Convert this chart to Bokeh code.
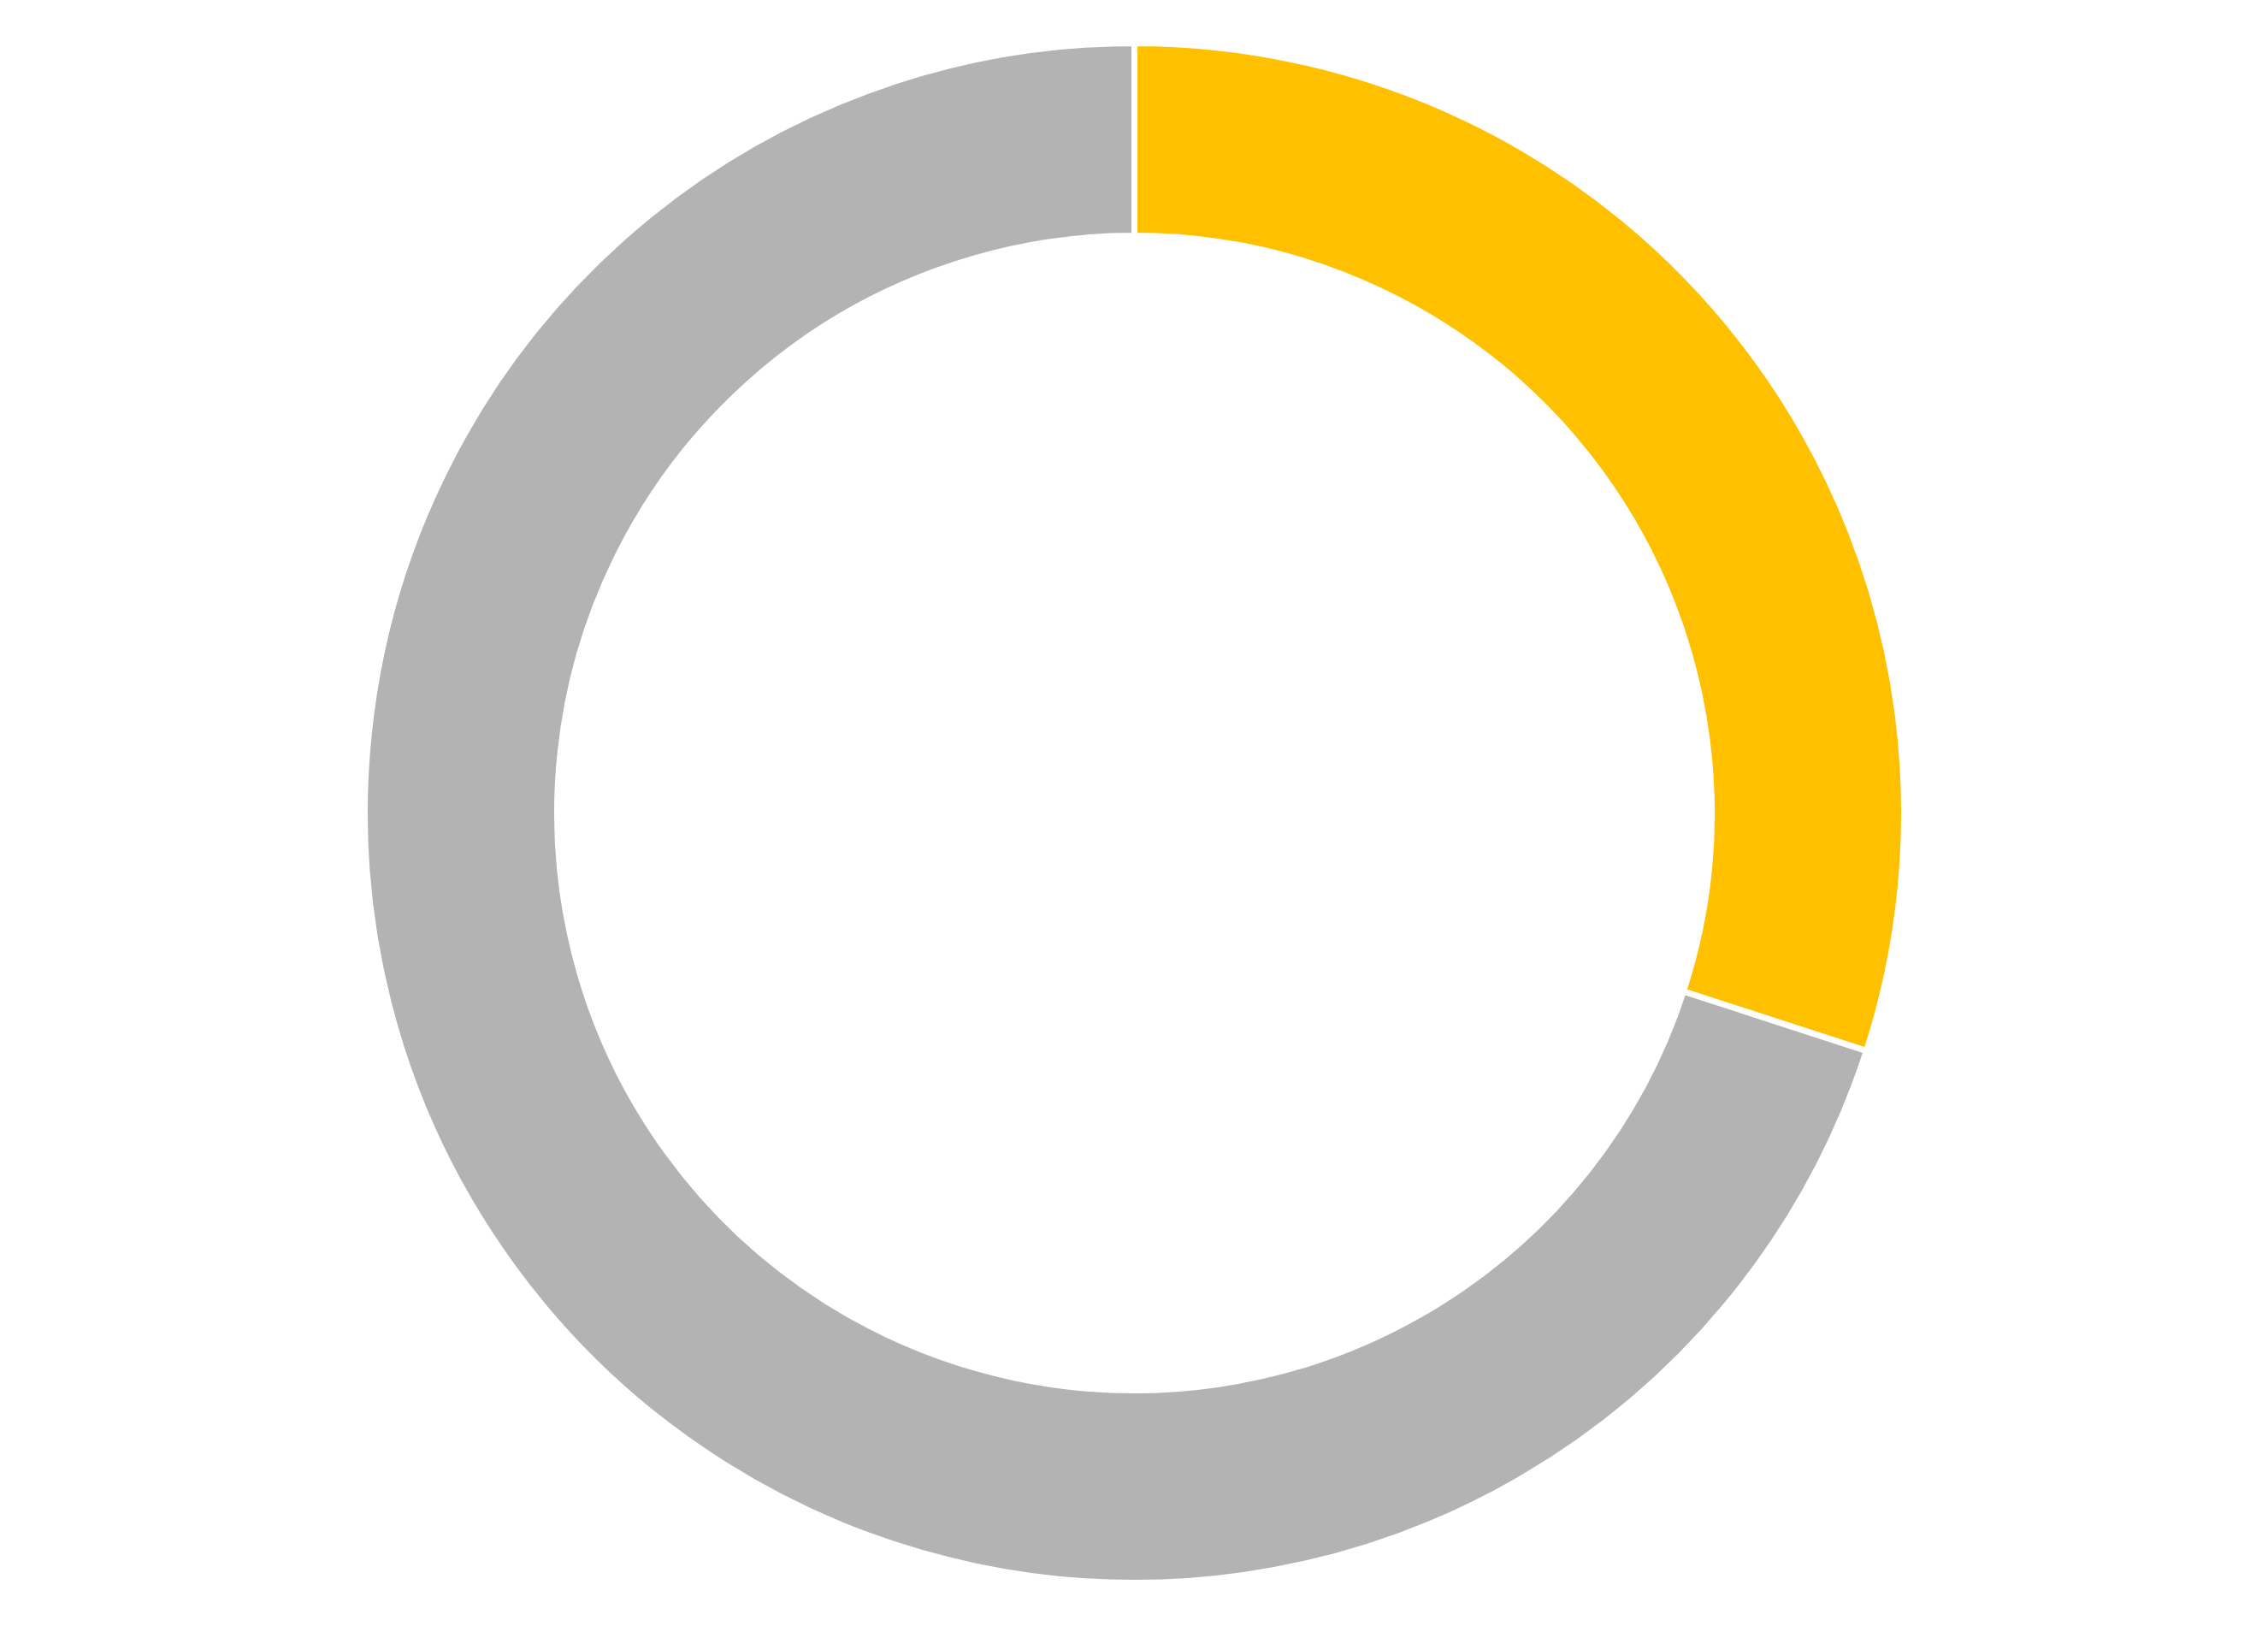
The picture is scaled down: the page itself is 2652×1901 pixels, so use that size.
from math import pi

from bokeh.embed import file_html
from bokeh.models import ColumnDataSource, Range1d
from bokeh.plotting import figure
from bokeh.resources import INLINE

# share of the ring, clockwise from 12 o'clock
labels = ["Done", "Remaining"]
values = [30, 70]
colors = ["#FFC000", "#B3B3B3"]

total = sum(values)
starts = []
ends = []
angle = pi / 2
for v in values:
    starts.append(angle)
    angle = angle - v / total * 2 * pi
    ends.append(angle)

source = ColumnDataSource(data=dict(label=labels, value=values, color=colors,
                                    start=starts, end=ends))

# ring centre sits at (1326, 950) of the page
W, H = 2636, 1885
cx, cy = 1326, 950
p = figure(width=W, height=H, output_backend="svg", toolbar_location=None,
           x_range=Range1d(-cx, W - cx), y_range=Range1d(cy - H, cy),
           min_border=0)

p.annular_wedge(x=0, y=0, inner_radius=675, outer_radius=900,
                start_angle="start", end_angle="end", direction="clock",
                fill_color="color", line_color="white", line_width=7,
                source=source)

p.axis.visible = False
p.grid.visible = False
p.outline_line_color = None

open("out.html", "w").write(file_html(p, INLINE))
